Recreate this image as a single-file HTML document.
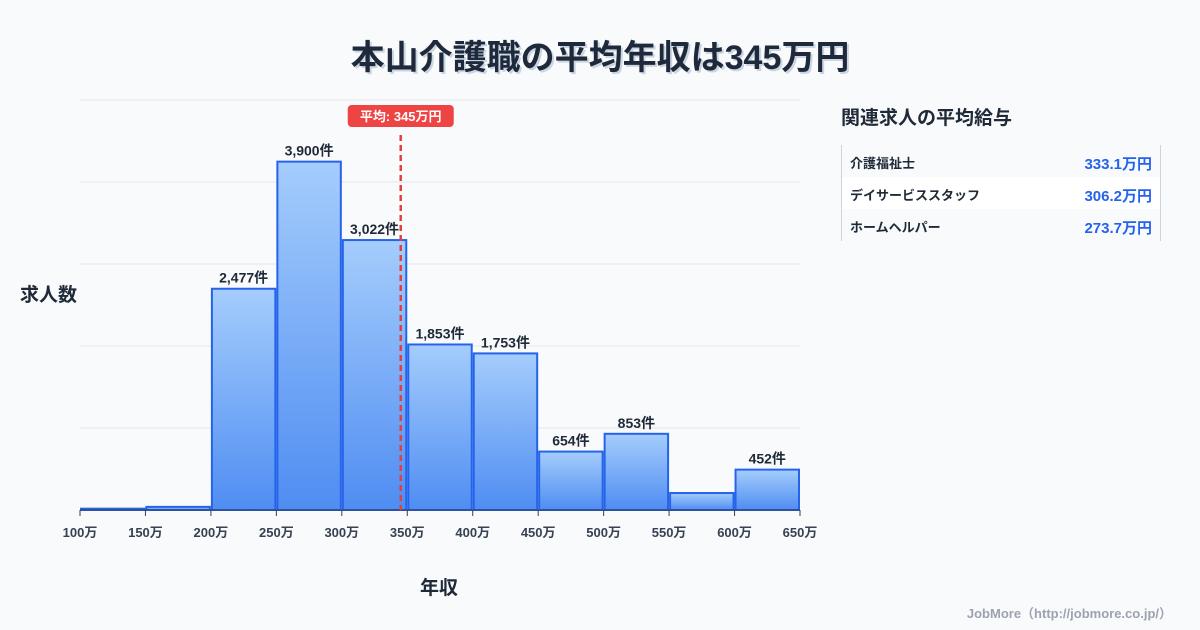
<!DOCTYPE html>
<html><head><meta charset="utf-8">
<style>
body{margin:0;width:1200px;height:630px;background:#f8fafc;font-family:"Liberation Sans","Noto Sans CJK JP",sans-serif;position:relative;overflow:hidden;color:#1f2937}
.t{position:absolute;white-space:nowrap}
#title{left:0;width:1200px;top:30px;text-align:center;font-size:34px;font-weight:bold;color:#1e293b;text-shadow:2px 2px 0 #cbd5e1}
#side h3{margin:0}
.row{position:absolute;left:842px;width:318px;height:32px;font-size:13px;font-weight:bold}
.row span{position:absolute;top:8px}
.row .v{right:8px;color:#2563eb;font-size:15px;top:8px}
</style></head><body>
<div id="title" class="t">本山介護職の平均年収は345万円</div>
<div class="t" style="left:20px;top:280px;font-size:19px;font-weight:bold">求人数</div>
<div class="t" style="left:420px;top:573px;font-size:19px;font-weight:bold">年収</div>
<svg id="chart" width="1200" height="630" style="position:absolute;left:0;top:0">
<defs><linearGradient id="g" x1="0" y1="0" x2="0" y2="1"><stop offset="0" stop-color="#a5cdfc"/><stop offset="1" stop-color="#4f8df2"/></linearGradient></defs>
<g id="grid"></g><g id="bars"></g><g id="ticks"></g><g id="labels"></g><g id="mean"></g>
</svg>
<div class="t" style="left:841px;top:103px;font-size:19px;font-weight:bold">関連求人の平均給与</div>
<div style="position:absolute;left:841px;top:145px;width:318px;height:96px;border-left:1px solid #cbd5e1;border-right:1px solid #cbd5e1"></div>
<div class="row" style="top:145px"><span style="left:8px">介護福祉士</span><span class="v">333.1万円</span></div>
<div class="row" style="top:177px;background:#fff"><span style="left:8px">デイサービススタッフ</span><span class="v">306.2万円</span></div>
<div class="row" style="top:209px"><span style="left:8px">ホームヘルパー</span><span class="v">273.7万円</span></div>
<div class="t" style="right:28px;top:603px;font-size:13px;font-weight:bold;color:#9ca3af">JobMore（http://jobmore.co.jp/）</div>
<script>
const binStarts=[100,150,200,250,300,350,400,450,500,550,600];
const counts=[15,35,2477,3900,3022,1853,1753,654,853,190,452];
const labelCounts=[null,null,"2,477件","3,900件","3,022件","1,853件","1,753件","654件","853件","","452件"];
const tickLabels=["100万","150万","200万","250万","300万","350万","400万","450万","500万","550万","600万","650万"];
const meanValue=345;
const xMin=100,xMax=650,yMax=4590;
const X=v=>80+(v-xMin)/(xMax-xMin)*720;
const Y=v=>510-v/yMax*410;
const NS="http://www.w3.org/2000/svg";
function mk(t,a,p){const e=document.createElementNS(NS,t);for(const k in a)e.setAttribute(k,a[k]);p.appendChild(e);return e;}
const grid=document.getElementById('grid');
for(let i=0;i<=5;i++){const y=510-i*82;const l=mk('line',{x1:80,x2:800,y1:y,y2:y,stroke:'#e5e7eb','stroke-width':1},grid);

}
const bars=document.getElementById('bars'),labels=document.getElementById('labels'),ticks=document.getElementById('ticks');
binStarts.forEach((b,i)=>{const x0=X(b)+1,x1=X(b+50)-1,y=Y(counts[i]);
const r=mk('rect',{x:x0,y:y,width:x1-x0,height:510-y,fill:'url(#g)',stroke:'#2563eb','stroke-width':2},bars);


if(labelCounts[i]){const t=mk('text',{x:(x0+x1)/2,y:y-6,'text-anchor':'middle','font-size':14,'font-weight':'bold',fill:'#1f2937'},labels);t.textContent=labelCounts[i];

}});
mk('line',{x1:80,x2:800,y1:510,y2:510,stroke:'#374151','stroke-width':1},ticks);
tickLabels.forEach((s,i)=>{const v=xMin+i*50,x=X(v);
mk('line',{x1:x,x2:x,y1:510,y2:516,stroke:'#374151'},ticks);
const t=mk('text',{x:x,y:537,'text-anchor':'middle','font-size':13,'font-weight':'bold',fill:'#374151'},ticks);t.textContent=s;

});
const mg=document.getElementById('mean');const mx=X(meanValue);
const ml=mk('line',{x1:mx,x2:mx,y1:135,y2:510,stroke:'#e53e3e','stroke-width':2.5,'stroke-dasharray':'6,4'},mg);


const mr=mk('rect',{x:mx-53,y:105,width:106,height:22,rx:4,fill:'#ef4444'},mg);


const mt=mk('text',{x:mx,y:121,'text-anchor':'middle','font-size':13,'font-weight':'bold',fill:'#fff'},mg);mt.textContent='平均: '+meanValue+'万円';


</script>
</body></html>
